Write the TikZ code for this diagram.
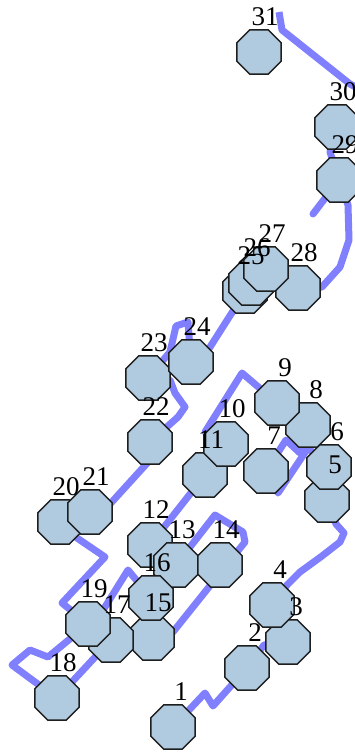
\documentclass[tikz,border=0pt]{standalone}
\usepackage{fontspec}
\setmainfont{Liberation Serif}
\usetikzlibrary{shapes.geometric,calc,backgrounds}
\definecolor{octfill}{RGB}{176,202,224}
\definecolor{trackblue}{RGB}{128,128,255}
\definecolor{octline}{RGB}{30,30,30}
\begin{document}
\begin{tikzpicture}[x=1pt,y=-1pt,
  oct/.style={regular polygon, regular polygon sides=8, minimum size=48pt,
    inner sep=0pt, draw=octline, fill=octfill, line width=1.4pt},
  lab/.style={inner sep=0pt, font=\fontsize{27}{27}\selectfont, text=black},
  track/.style={draw=trackblue, line width=7pt, line join=round, line cap=butt}]
\useasboundingbox (0,0) rectangle (355,753);
\foreach \i/\x/\y in {1/173/727, 2/247/668, 3/288/642, 4/272/605, 5/327/500,
  6/329/467, 7/266/471, 8/308/425, 9/277/403, 11/205/475, 10/226/444,
  12/150/545, 13/176/565, 14/220/565, 15/152/638, 16/151/598, 17/111/640,
  18/57/698, 19/88/624, 20/60/522, 21/90/512, 22/150/442, 23/148/378,
  24/191/362, 25/245/291, 26/251/283, 28/298/288, 27/266/269, 29/339/180,
  30/337/127, 31/259/52}
  {\node[oct] (n\i) at (\x,\y) {};}
\foreach \i in {1,...,31}{
  \pgfmathsetmacro\dx{\i<10 ? 8 : 6}
  \node[lab] (l\i) at ($(n\i)+(\dx,-35)$) {\i};
}
\begin{pgfonlayer}{background}
\draw[track] (n1.center) -- (205,693) -- (213,706) -- (n2.center) -- (264,645)
  -- (n3.center) -- (n4.center) -- (287,585) -- (300,572) -- (322,556)
  -- (340,542) -- (344,533) -- (336,524) -- (n5.center) -- (n6.center)
  -- (308,448) -- (278,493) -- (n7.center) -- (286,440) -- (300,453)
  -- (n8.center) -- (n9.center) -- (242,373) -- (205,432) -- (n10.center)
  -- (n11.center) -- (n12.center) -- (n13.center) -- (215,515) -- (243,532)
  -- (245,542) -- (173,632) -- (n15.center) -- (n16.center) -- (128,570)
  -- (100,615) -- (n17.center) -- (n18.center) -- (35,682) -- (12,665)
  -- (30,650) -- (48,657) -- (n19.center) -- (62,603) -- (105,557)
  -- (77,538) -- (n20.center) -- (n21.center) -- (100,515) -- (150,460)
  -- (n22.center) -- (178,417) -- (185,407) -- (175,393) -- (170,380)
  -- (n23.center) -- (170,352) -- (176,326) -- (188,322) -- (n24.center)
  -- (205,355) -- (240,300) -- (n25.center) -- (n26.center) -- (n27.center)
  -- (n28.center) -- (322,287) -- (340,267) -- (349,240) -- (348,205)
  -- (n29.center) -- (313,214) -- (n29.center) -- (330,152) -- (n30.center)
  -- (370,140) -- (370,95) -- (350,84) -- (282,30) -- (279,12);
\end{pgfonlayer}
\end{tikzpicture}
\end{document}
